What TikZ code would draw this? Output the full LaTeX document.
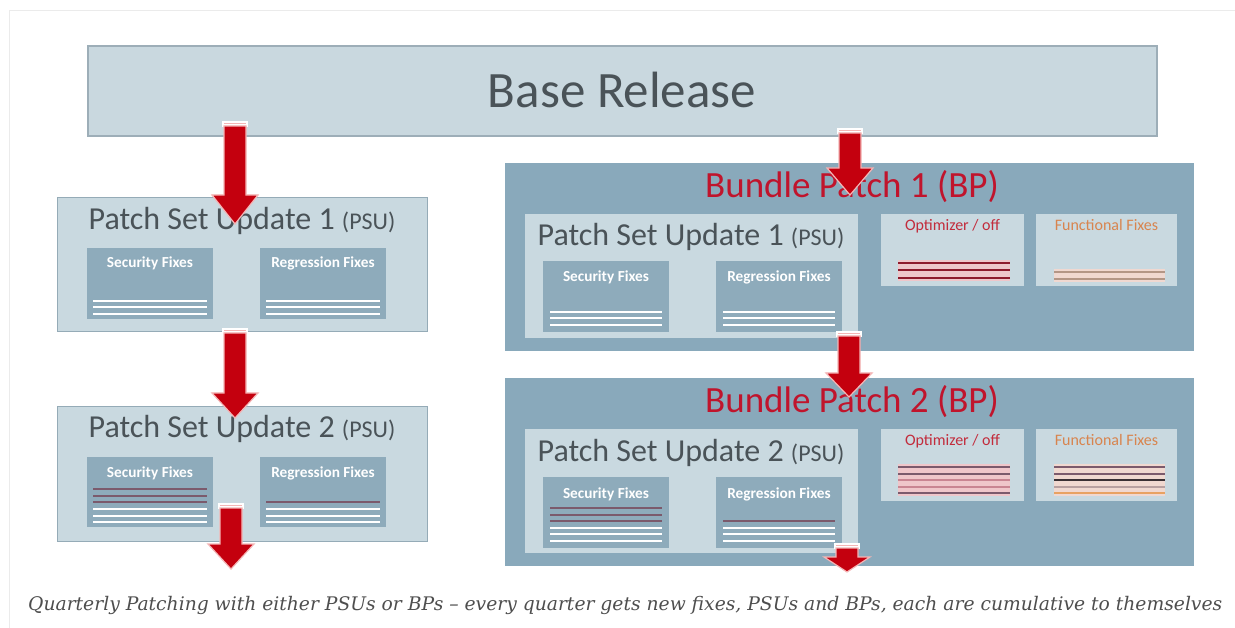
\documentclass[tikz,border=0pt]{standalone}
\usepackage{fontspec}
\usepackage{graphicx}
\setmainfont{Carlito}
\newfontfamily\capfont{DejaVu Serif}
\usetikzlibrary{calc}
\definecolor{basefill}{HTML}{C9D8DF}
\definecolor{baseborder}{HTML}{9DAEB8}
\definecolor{psufill}{HTML}{C9D9E0}
\definecolor{psuborder}{HTML}{95ABB7}
\definecolor{secfill}{HTML}{8EABBB}
\definecolor{bpfill}{HTML}{89A9BB}
\definecolor{txtdark}{HTML}{4A5358}
\definecolor{bpred}{HTML}{C0142C}
\definecolor{optred}{HTML}{C22C3C}
\definecolor{funorange}{HTML}{D8844E}
\definecolor{mauve}{HTML}{7B5A6C}
\definecolor{pinkline}{HTML}{C98592}
\definecolor{arrred}{HTML}{C4000E}
\definecolor{arrpink}{HTML}{F4B6B6}
\definecolor{pinkband}{HTML}{EFC6CA}
\definecolor{peachband}{HTML}{F0D8D0}
\definecolor{darkred}{HTML}{8E1A2C}
\definecolor{brownline}{HTML}{B39686}
\definecolor{darkline}{HTML}{3A3034}
\definecolor{greypeach}{HTML}{B8A0A0}
\definecolor{orangeline}{HTML}{E8A262}
\definecolor{framegray}{HTML}{EBEBEB}
\definecolor{capgray}{HTML}{4E4E4E}
\newcommand\fatarrow[3]{%
  \fill[white] let \p1=(#1) in (\x1-13pt,\y1) rectangle (\x1+13pt,\y1-6pt);
  \draw[arrpink,line width=0.9pt] let \p1=(#1) in (\x1-11pt,\y1-2.5pt) -- (\x1+11pt,\y1-2.5pt);
  \draw[fill=arrred,draw=arrpink,line width=1.2pt,line join=miter] let \p1=(#1), \p2=(#2) in
    (\x1-11pt,\y1-5pt) -- (\x1+11pt,\y1-5pt) -- (\x1+11pt,\y2+#3pt) -- (\x1+23pt,\y2+#3pt)
    -- (\x1,\y2) -- (\x1-23pt,\y2+#3pt) -- (\x1-11pt,\y2+#3pt) -- cycle;
}
\newcommand\fixlines[4]{% node, left inset, right inset, colour/offset list
  \foreach \c/\d in {#4}
    \draw[\c,line width=2pt] ($(#1.south west)+(#2,-\d)$) -- ($(#1.south east)+(-#3,-\d)$);
}
\begin{document}
\begin{tikzpicture}[x=1pt,y=-1pt,
  box/.style={anchor=north west,inner sep=0pt,outer sep=0pt},
  basebox/.style={box,fill=basefill,draw=baseborder,line width=1.5pt},
  psubox/.style={box,fill=psufill,draw=psuborder,line width=1pt},
  ipsubox/.style={box,fill=psufill},
  secbox/.style={box,fill=secfill},
  bpbox/.style={box,fill=bpfill},
  optbox/.style={box,fill=psufill},
  bigtitle/.style={anchor=base,inner sep=0pt,text=txtdark,font=\fontsize{51}{51}\selectfont},
  psutitle/.style={anchor=base,inner sep=0pt,text=txtdark,font=\fontsize{32}{32}\selectfont},
  bptitle/.style={anchor=base,inner sep=0pt,text=bpred,font=\fontsize{37}{37}\selectfont},
  smalltext/.style={anchor=base,inner sep=0pt,text=white,font=\bfseries\fontsize{15.3}{15.3}\selectfont},
  opttext/.style={anchor=base,inner sep=0pt,font=\fontsize{16}{16}\selectfont},
]
\useasboundingbox[fill=white] (0,0) rectangle (1235,628);
% faint frame
\draw[framegray,line width=1pt] (9,628) -- (9,11) -- (1235,11);

% Base release
\node[basebox,minimum width=1069pt,minimum height=90pt] (base) at (88,46) {};
\node[bigtitle] (baset) at (622,108) {Base Release};

% Left PSU 1
\node[psubox,minimum width=370pt,minimum height=134pt] (psuA) at (57,198) {};
\node[psutitle] (psuAt) at (242,230) {Patch Set Update 1 {\fontsize{24}{24}\selectfont(PSU)}};
\node[secbox,minimum width=126pt,minimum height=71pt] (secA) at (87,248) {};
\node[secbox,minimum width=126pt,minimum height=71pt] (regA) at (260,248) {};
\node[smalltext] (secAt) at ($(secA.north)+(0,20)$) {Security Fixes};
\node[smalltext] (regAt) at ($(regA.north)+(0,20)$) {Regression Fixes};
\fixlines{secA}{6}{6}{white/18,white/11.5,white/5}
\fixlines{regA}{6}{6}{white/18,white/11.5,white/5}

% Left PSU 2
\node[psubox,minimum width=370pt,minimum height=134pt] (psuB) at (57,407) {};
\node[psutitle] (psuBt) at (242,438) {Patch Set Update 2 {\fontsize{24}{24}\selectfont(PSU)}};
\node[secbox,minimum width=126pt,minimum height=70pt] (secB) at (87,457) {};
\node[secbox,minimum width=126pt,minimum height=70pt] (regB) at (260,457) {};
\node[smalltext] (secBt) at ($(secB.north)+(0,20)$) {Security Fixes};
\node[smalltext] (regBt) at ($(regB.north)+(0,20)$) {Regression Fixes};
\fixlines{secB}{6}{6}{mauve/38,mauve/31.5,mauve/25,white/18,white/11.5,white/5}
\fixlines{regB}{6}{6}{mauve/25,white/18,white/11.5,white/5}

% Bundle Patch 1
\node[bpbox,minimum width=689pt,minimum height=188pt] (bp1) at (505,163) {};
\node[bptitle] (bp1t) at (852,198) {Bundle Patch 1 (BP)};
\node[ipsubox,minimum width=333pt,minimum height=124pt] (ipsu1) at (525,214) {};
\node[psutitle] (ipsu1t) at (691,246) {Patch Set Update 1 {\fontsize{24}{24}\selectfont(PSU)}};
\node[secbox,minimum width=126pt,minimum height=71pt] (isec1) at (543,261) {};
\node[secbox,minimum width=126pt,minimum height=71pt] (ireg1) at (716,261) {};
\node[smalltext] (isec1t) at ($(isec1.north)+(0,21)$) {Security Fixes};
\node[smalltext] (ireg1t) at ($(ireg1.north)+(0,21)$) {Regression Fixes};
\fixlines{isec1}{7}{7}{white/20,white/13.5,white/7}
\fixlines{ireg1}{7}{7}{white/20,white/13.5,white/7}
\node[optbox,minimum width=143pt,minimum height=72pt] (opt1) at (881,214) {};
\node[optbox,minimum width=141pt,minimum height=72pt] (fun1) at (1036,214) {};
\node[opttext,text=optred] (opt1t) at ($(opt1.north)+(0,17)$) {Optimizer / off};
\node[opttext,text=funorange] (fun1t) at ($(fun1.north)+(0,17)$) {Functional Fixes};
\fill[pinkband] ($(opt1.south west)+(17,-26)$) rectangle ($(opt1.south east)+(-14,-5)$);
\fixlines{opt1}{17}{14}{darkred/23,darkred/15.5,darkred/8}
\fill[peachband] ($(fun1.south west)+(18,-17)$) rectangle ($(fun1.south east)+(-12,-4)$);
\fixlines{fun1}{18}{12}{brownline/14,brownline/7}

% Bundle Patch 2
\node[bpbox,minimum width=689pt,minimum height=188pt] (bp2) at (505,378) {};
\node[bptitle] (bp2t) at (852,413) {Bundle Patch 2 (BP)};
\node[ipsubox,minimum width=333pt,minimum height=124pt] (ipsu2) at (525,429) {};
\node[psutitle] (ipsu2t) at (691,461) {Patch Set Update 2 {\fontsize{24}{24}\selectfont(PSU)}};
\node[secbox,minimum width=126pt,minimum height=71pt] (isec2) at (543,477) {};
\node[secbox,minimum width=126pt,minimum height=71pt] (ireg2) at (716,477) {};
\node[smalltext] (isec2t) at ($(isec2.north)+(0,21)$) {Security Fixes};
\node[smalltext] (ireg2t) at ($(ireg2.north)+(0,21)$) {Regression Fixes};
\fixlines{isec2}{7}{7}{mauve/40,mauve/33.5,mauve/27,white/20.5,white/14,white/7}
\fixlines{ireg2}{7}{7}{mauve/27,white/20.5,white/14,white/7}
\node[optbox,minimum width=143pt,minimum height=72pt] (opt2) at (881,429) {};
\node[optbox,minimum width=141pt,minimum height=72pt] (fun2) at (1036,429) {};
\node[opttext,text=optred] (opt2t) at ($(opt2.north)+(0,17)$) {Optimizer / off};
\node[opttext,text=funorange] (fun2t) at ($(fun2.north)+(0,17)$) {Functional Fixes};
\fill[pinkband] ($(opt2.south west)+(17,-37)$) rectangle ($(opt2.south east)+(-14,-5)$);
\fixlines{opt2}{17}{14}{mauve/34,mauve/27.5,pinkline/21,pinkline/14.5,mauve/8}
\fill[peachband] ($(fun2.south west)+(18,-37)$) rectangle ($(fun2.south east)+(-12,-5)$);
\fixlines{fun2}{18}{12}{mauve/34,mauve/27.5,darkline/21,greypeach/14.5,orangeline/8}

% Arrows (connectors)
\coordinate (a1s) at (235,121);  \coordinate (a1e) at (235,224);
\coordinate (a2s) at (235,328);  \coordinate (a2e) at (235,418);
\coordinate (a3s) at (231,503);  \coordinate (a3e) at (231,569);
\coordinate (a4s) at (850,128);  \coordinate (a4e) at (850,195);
\coordinate (a5s) at (849,331);  \coordinate (a5e) at (849,397);
\coordinate (a6s) at (847,543);  \coordinate (a6e) at (847,572);
\fatarrow{a1s}{a1e}{29}
\fatarrow{a2s}{a2e}{25}
\fatarrow{a3s}{a3e}{25}
\fatarrow{a4s}{a4e}{27}
\fatarrow{a5s}{a5e}{24}
\fatarrow{a6s}{a6e}{15}

% Caption
\node[anchor=base west,inner sep=0pt,text=capgray] (cap) at (28,610)
  {\resizebox{1194pt}{!}{\capfont\itshape Quarterly Patching with either PSUs or BPs – every quarter gets new fixes, PSUs and BPs, each are cumulative to themselves}};
\end{tikzpicture}
\end{document}
